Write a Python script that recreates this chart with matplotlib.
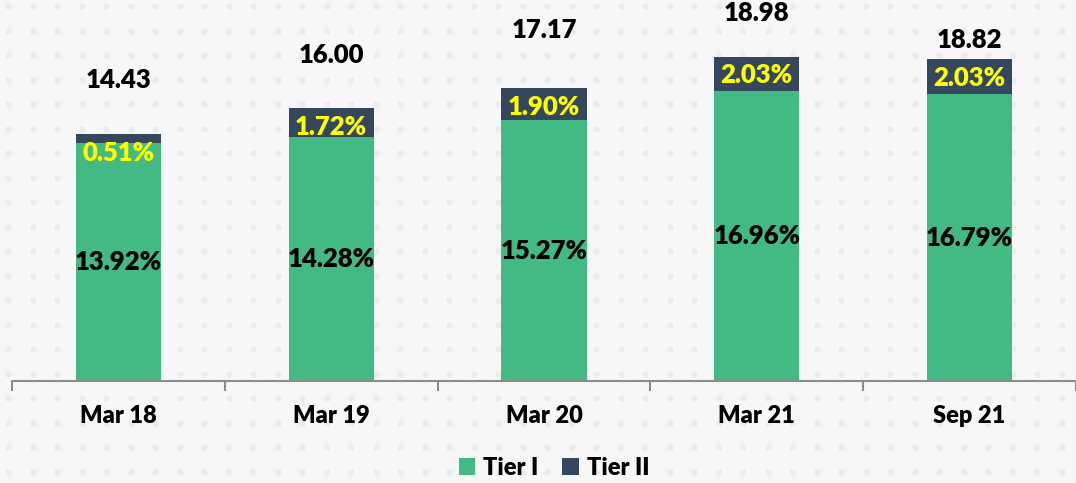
import matplotlib.pyplot as plt
import numpy as np

# data
periods = ['Mar 18', 'Mar 19', 'Mar 20', 'Mar 21', 'Sep 21']
tier1 = [13.92, 14.28, 15.27, 16.96, 16.79]
tier2 = [0.51, 1.72, 1.90, 2.03, 2.03]
totals = ['14.43', '16.00', '17.17', '18.98', '18.82']
total_label_y = [17.6, 19.06, 20.53, 21.52, 19.94]  # where the totals sit

GREEN = '#43B983'
NAVY = '#34475C'
BG = '#F7F7F7'
FS = 18.5

plt.rcParams['font.family'] = ['Lato', 'DejaVu Sans']

fig = plt.figure(figsize=(10.76, 4.83), dpi=100, facecolor=BG)

# faint dotted backdrop
bg = fig.add_axes([0, 0, 1, 1], zorder=0)
bg.set_xlim(0, 1076)
bg.set_ylim(483, 0)
bg.axis('off')
gx, gy = np.meshgrid(np.arange(8, 1076, 24.5), np.arange(6, 483, 24.5))
bg.scatter(gx.ravel(), gy.ravel(), s=22, color='#ECECEC', linewidths=0)

ax = fig.add_axes([12 / 1076, 102 / 483, 1 - 12 / 1076, 381 / 483], zorder=1)
ax.patch.set_alpha(0)

x = np.arange(len(periods))
ax.bar(x, tier1, width=0.4, color=GREEN, label='Tier I', zorder=2)
ax.bar(x, tier2, width=0.4, bottom=tier1, color=NAVY, label='Tier II', zorder=2)

for i in range(len(periods)):
    ax.text(x[i], tier1[i] / 2, f'{tier1[i]:.2f}%', ha='center', va='center',
            fontsize=FS, fontweight='heavy', color='black', zorder=3)
    ax.annotate(f'{tier2[i]:.2f}%', xy=(x[i], tier1[i] + tier2[i]), xytext=(0, -5),
                textcoords='offset points', ha='center', va='top',
                fontsize=FS, fontweight='heavy', color='#FFFF00', zorder=3)
    ax.text(x[i], total_label_y[i], totals[i], ha='center', va='center',
            fontsize=FS, fontweight='heavy', color='black', zorder=3)

ax.set_xlim(-0.5, len(periods) - 0.5)
ax.set_ylim(0, 22.3)
ax.set_yticks([])
for s in ['top', 'right', 'left']:
    ax.spines[s].set_visible(False)
ax.spines['bottom'].set_color('#8C8C8C')
ax.spines['bottom'].set_linewidth(1.5)

ax.set_xticks(np.arange(-0.5, len(periods), 1.0))
ax.set_xticklabels([])
ax.tick_params(axis='x', which='major', length=7, width=1.5, color='#8C8C8C')
ax.set_xticks(x, minor=True)
ax.set_xticklabels(periods, minor=True, fontsize=17, fontweight='heavy')
ax.tick_params(axis='x', which='minor', length=0, pad=17)

fig.legend(loc='lower center', bbox_to_anchor=(0.515, -0.035), ncol=2, frameon=False,
           handlelength=0.7, handleheight=0.7, handletextpad=0.35,
           columnspacing=1.0, prop={'weight': 'heavy', 'size': 17})

fig.savefig('out.png', dpi=100, facecolor=BG)
